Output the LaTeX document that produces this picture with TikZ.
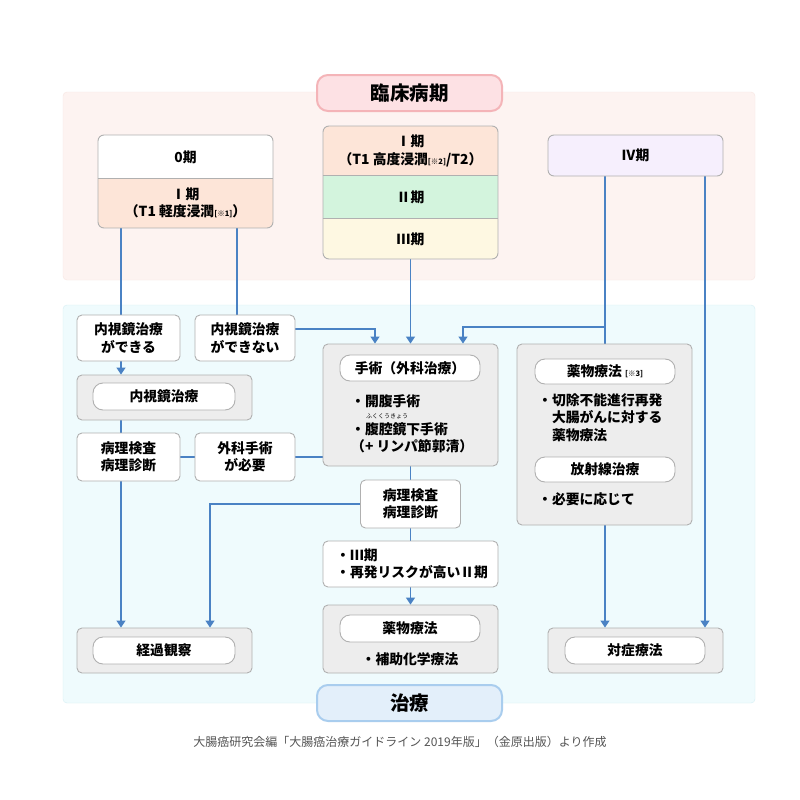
\documentclass[tikz,border=0pt]{standalone}
\usepackage{fontspec}
\setmainfont{Noto Sans CJK JP}
\usetikzlibrary{arrows.meta,calc}
\definecolor{pinkbg}{HTML}{FDF3F1}
\definecolor{pinkbd}{HTML}{F7E6E2}
\definecolor{cyanbg}{HTML}{EFFBFD}
\definecolor{cyanbd}{HTML}{D6F0F5}
\definecolor{tpink}{HTML}{FDE1E4}
\definecolor{tpinkbd}{HTML}{F4B4B8}
\definecolor{tblue}{HTML}{E3EFFA}
\definecolor{tbluebd}{HTML}{A9CDEE}
\definecolor{peach}{HTML}{FDE5D8}
\definecolor{mint}{HTML}{D3F4DD}
\definecolor{cream}{HTML}{FEF8E2}
\definecolor{lav}{HTML}{F6EFFD}
\definecolor{boxgray}{HTML}{EDEDED}
\definecolor{bd}{HTML}{B0B0B0}
\definecolor{lineblue}{HTML}{4A82C4}
\definecolor{capgray}{HTML}{555555}
\newcommand\bxf{\fontsize{13.8}{17.5}\selectfont\bfseries}
\newcommand\ttf{\fontsize{19.5}{22}\selectfont\bfseries}
\newcommand\tagf{\fontsize{7.5}{8}\selectfont}
\pgfdeclarelayer{bg}
\pgfdeclarelayer{lines}
\pgfsetlayers{bg,lines,main}
\begin{document}
\begin{tikzpicture}[x=1pt,y=-1pt,
  wbox/.style={draw=bd, fill=white, rounded corners=5pt, line width=0.9pt, inner sep=0pt, align=center, font=\bxf},
  gbox/.style={draw=bd, fill=boxgray, rounded corners=5pt, line width=0.9pt, inner sep=0pt},
  pill/.style={draw=bd, fill=white, rounded corners=10pt, line width=0.9pt, inner sep=0pt, align=center, font=\bxf},
  txt/.style={inner sep=0pt, font=\bxf},
  frame/.style={inner sep=0pt},
  conn/.style={draw=lineblue, line width=1.2pt},
  arr/.style={conn, -{Triangle[width=9pt,length=7pt]}},
  title/.style={rounded corners=11pt, line width=2pt, inner sep=0pt, minimum width=185pt, minimum height=36pt, font=\ttf}
]
\useasboundingbox (0,0) rectangle (800,800);
\begin{pgfonlayer}{bg}
\fill[white] (0,0) rectangle (800,800);
\draw[pinkbd, fill=pinkbg, rounded corners=4pt] (63,92) rectangle (755,280);
\draw[cyanbd, fill=cyanbg, rounded corners=4pt] (63,305) rectangle (755,703);
\end{pgfonlayer}

% titles
\node[title, draw=tpinkbd, fill=tpink] (tTop) at (409.5,93) {臨床病期};
\node[title, draw=tbluebd, fill=tblue] (tBot) at (409.5,703) {治療};

% stage 0 / I
\begin{scope}
\clip[rounded corners=6pt] (98,135) rectangle (273,228);
\fill[white] (98,135) rectangle (273,178);
\fill[peach] (98,178) rectangle (273,228);
\end{scope}
\node[frame, draw=bd, line width=0.9pt, rounded corners=6pt, minimum width=175pt, minimum height=93pt] (st0) at (185.5,181.5) {};
\draw[bd, line width=0.9pt] (st0.west |- 0,178) -- (st0.east |- 0,178);
\node[txt] (st0a) at (185.5,157) {0期};
\node[txt, align=center] (st0b) at (185.5,203) {Ⅰ期\\（T1 軽度浸潤{\tagf[※1]}）};

% stage I/II/III
\begin{scope}
\clip[rounded corners=6pt] (323,126) rectangle (498,259);
\fill[peach] (323,126) rectangle (498,175);
\fill[mint] (323,175) rectangle (498,218);
\fill[cream] (323,218) rectangle (498,259);
\end{scope}
\node[frame, draw=bd, line width=0.9pt, rounded corners=6pt, minimum width=175pt, minimum height=133pt] (stM) at (410.5,192.5) {};
\draw[bd, line width=0.9pt] (stM.west |- 0,175) -- (stM.east |- 0,175);
\draw[bd, line width=0.9pt] (stM.west |- 0,218) -- (stM.east |- 0,218);
\node[txt, align=center] (stMa) at (410.5,151) {Ⅰ期\\（T1 高度浸潤{\tagf[※2]}/T2）};
\node[txt] (stMb) at (410.5,197) {Ⅱ期};
\node[txt] (stMc) at (410.5,239) {Ⅲ期};

% stage IV
\node[frame, draw=bd, fill=lav, line width=0.9pt, rounded corners=6pt, minimum width=175pt, minimum height=41pt, font=\bxf] (st4) at (635.5,155.5) {Ⅳ期};

% left column
\node[wbox, minimum width=103pt, minimum height=46pt] (ok) at (128.5,338) {内視鏡治療\\ができる};
\node[wbox, minimum width=100pt, minimum height=46pt] (ng) at (245,338) {内視鏡治療\\ができない};
\node[gbox, minimum width=175pt, minimum height=45pt] (endo) at (164.5,397.5) {};
\node[pill, minimum width=142pt, minimum height=27pt] (endoP) at (164,396.5) {内視鏡治療};
\node[wbox, minimum width=103pt, minimum height=48pt] (path1) at (128.5,457) {病理検査\\病理診断};
\node[wbox, minimum width=100pt, minimum height=48pt] (surg) at (245,457) {外科手術\\が必要};
\node[gbox, minimum width=175pt, minimum height=45pt] (obs) at (164.5,650.5) {};
\node[pill, minimum width=142pt, minimum height=27pt] (obsP) at (164,650.5) {経過観察};

% middle column
\node[gbox, minimum width=175pt, minimum height=122pt] (op) at (410.5,405) {};
\node[pill, minimum width=140pt, minimum height=26pt] (opP) at (410,368) {手術（外科治療）};
\node[txt, anchor=west] (op1) at (351,401) {・開腹手術};
\node[inner sep=0pt, font=\fontsize{6}{6}\selectfont, anchor=west] (opR) at (366,416) {ふくくうきょう};
\node[txt, anchor=west] (op2) at (351,429) {・腹腔鏡下手術};
\node[txt, anchor=west] (op3) at (351,446) {（+ リンパ節郭清）};
\node[wbox, minimum width=100pt, minimum height=48pt] (path2) at (410.5,504) {病理検査\\病理診断};
\node[wbox, minimum width=175pt, minimum height=46pt] (risk) at (410.5,564) {};
\node[txt, anchor=west, align=left] (riskT) at (336,564) {・Ⅲ期\\・再発リスクが高いⅡ期};
\node[gbox, minimum width=175pt, minimum height=68pt] (chemo) at (410.5,639) {};
\node[pill, minimum width=140pt, minimum height=27pt] (chemoP) at (410,628.5) {薬物療法};
\node[txt] (chemoT) at (410,659) {・補助化学療法};

% right column
\node[gbox, minimum width=175pt, minimum height=181pt] (drug) at (604.5,434.5) {};
\node[pill, minimum width=140pt, minimum height=25pt] (drugP) at (605,371.5) {薬物療法 {\tagf[※3]}};
\node[txt, anchor=north west, align=left] (drugT) at (538,393) {・切除不能進行再発\\\hspace*{1em}大腸がんに対する\\\hspace*{1em}薬物療法};
\node[pill, minimum width=140pt, minimum height=25pt] (radP) at (605,469.5) {放射線治療};
\node[txt, anchor=west] (radT) at (538,499) {・必要に応じて};
\node[gbox, minimum width=175pt, minimum height=45pt] (sym) at (635.5,650.5) {};
\node[pill, minimum width=140pt, minimum height=27pt] (symP) at (635,650.5) {対症療法};

% caption
\node[inner sep=0pt, font=\fontsize{12}{12}\selectfont, text=capgray] (cap) at (400,742) {大腸癌研究会編「大腸癌治療ガイドライン 2019年版」（金原出版）より作成};

% connectors
\coordinate (cA) at (121,0);
\coordinate (cB) at (237,0);
\coordinate (cC) at (375,329);
\coordinate (cD) at (463,327);
\coordinate (cE) at (605,0);
\coordinate (cF) at (705,0);
\coordinate (cG) at (210,504);
\begin{pgfonlayer}{lines}
\draw[conn] (st0.south -| cA) -- (ok.north -| cA);
\draw[conn] (st0.south -| cB) -- (ng.north -| cB);
\draw[arr] (ng.east |- cC) -- (cC) -- (op.north -| cC);
\draw[arr] (stM.south) -- (op.north);
\draw[arr] (st4.south -| cE) -- (sym.north -| cE);
\draw[arr] (st4.south -| cF) -- (sym.north -| cF);
\draw[arr] (cE |- cD) -- (cD) -- (op.north -| cD);
\draw[arr] (ok.south -| cA) -- (endo.north -| cA);
\draw[conn] (endo.south -| cA) -- (path1.north -| cA);
\draw[arr] (path1.south -| cA) -- (obs.north -| cA);
\draw[conn] (path1.east) -- (surg.west);
\draw[conn] (surg.east) -- (op.west |- surg.east);
\draw[conn] (op.south) -- (path2.north);
\draw[arr] (path2.west) -- (cG) -- (obs.north -| cG);
\draw[conn] (path2.south) -- (risk.north);
\draw[arr] (risk.south) -- (chemo.north);
\end{pgfonlayer}
\end{tikzpicture}
\end{document}
